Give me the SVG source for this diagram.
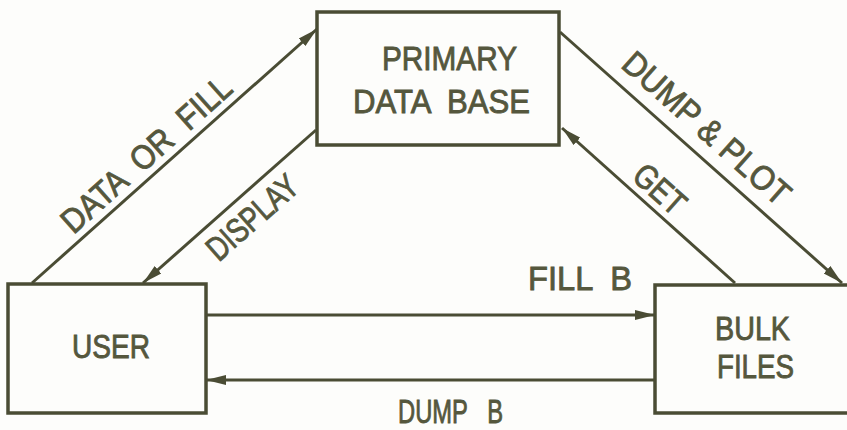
<svg xmlns="http://www.w3.org/2000/svg" width="847" height="430" viewBox="0 0 847 430">
  <defs>
    <marker id="arr" markerUnits="userSpaceOnUse" markerWidth="22" markerHeight="12" refX="20" refY="6" orient="auto">
      <path d="M0,1 L20,6 L0,11 z" fill="#4a4c34"/>
    </marker>
    <style>
      .box { fill: none; stroke: #4a4c34; stroke-width: 3.5; }
      .edge { fill: none; stroke: #4a4c34; stroke-width: 3; marker-end: url(#arr); }
      .lbl { font-family: "Liberation Sans", "DejaVu Sans", sans-serif; font-size: 34px; fill: #55573d; stroke: #55573d; stroke-width: 0.9; white-space: pre; }
    </style>
  </defs>
  <rect width="847" height="430" fill="#fdfdfb"/>

  <g id="connectors">
    <line class="edge" x1="32" y1="283" x2="317" y2="29"/>
    <line class="edge" x1="316" y1="130" x2="143" y2="283"/>
    <line class="edge" x1="560" y1="32" x2="842" y2="283"/>
    <line class="edge" x1="735" y1="283" x2="562" y2="128"/>
    <line class="edge" x1="206" y1="315" x2="655" y2="315"/>
    <line class="edge" x1="655" y1="380" x2="206" y2="380"/>
    <text class="lbl" xml:space="preserve" transform="translate(146,154) rotate(-41.8)" x="-108" y="12" textLength="216" lengthAdjust="spacingAndGlyphs">DATA  OR  FILL</text>
    <text class="lbl" transform="translate(252,217) rotate(-41.5)" x="-55" y="12" textLength="110" lengthAdjust="spacingAndGlyphs">DISPLAY</text>
    <text class="lbl" xml:space="preserve" transform="translate(707,128) rotate(41.7)" x="-106" y="12" textLength="212" lengthAdjust="spacingAndGlyphs">DUMP &amp; PLOT</text>
    <text class="lbl" transform="translate(660,189) rotate(41.8)" x="-29" y="12" textLength="58" lengthAdjust="spacingAndGlyphs">GET</text>
    <text class="lbl" xml:space="preserve" x="528" y="290" textLength="104" lengthAdjust="spacingAndGlyphs">FILL  B</text>
    <text class="lbl" xml:space="preserve" x="398" y="423" textLength="105" lengthAdjust="spacingAndGlyphs">DUMP   B</text>
  </g>

  <g id="primary">
    <rect class="box" x="317" y="12" width="242" height="133"/>
    <text class="lbl" x="382" y="70" textLength="135" lengthAdjust="spacingAndGlyphs">PRIMARY</text>
    <text class="lbl" xml:space="preserve" x="353" y="113" textLength="177" lengthAdjust="spacingAndGlyphs">DATA  BASE</text>
  </g>

  <g id="user">
    <rect class="box" x="8" y="284" width="198" height="129"/>
    <text class="lbl" x="72" y="358" textLength="78" lengthAdjust="spacingAndGlyphs">USER</text>
  </g>

  <g id="bulk">
    <rect class="box" x="655" y="285" width="200" height="128"/>
    <text class="lbl" x="715" y="340" textLength="75" lengthAdjust="spacingAndGlyphs">BULK</text>
    <text class="lbl" x="717" y="378" textLength="77" lengthAdjust="spacingAndGlyphs">FILES</text>
  </g>
</svg>
